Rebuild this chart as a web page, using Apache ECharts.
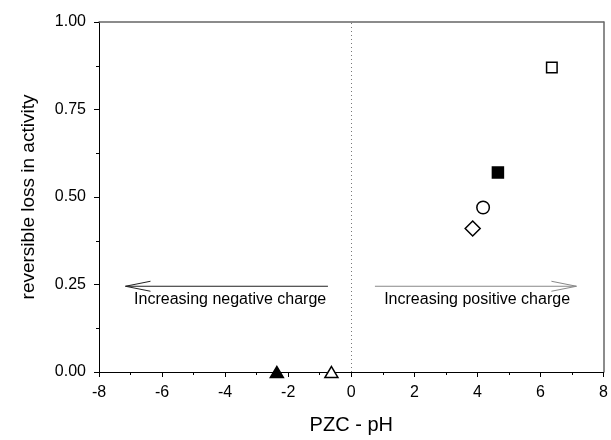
<!DOCTYPE html>
<html><head><meta charset="utf-8">
<script src="https://cdn.jsdelivr.net/npm/echarts@6/dist/echarts.min.js"></script>
<style>html,body{margin:0;padding:0;background:#fff}#c{width:611px;height:440px}</style>
</head><body><div id="c"></div>
<script>
// ---- data ----
const pointNames = ['filled triangle', 'open triangle', 'open diamond', 'open circle', 'filled square', 'open square'];
const pzcMinusPh = [-2.36, -0.63, 3.85, 4.18, 4.65, 6.36];
const reversibleLoss = [0.00, 0.00, 0.41, 0.47, 0.57, 0.87];
const xTickValues = [-8, -6, -4, -2, 0, 2, 4, 6, 8];
const yTickValues = [0.00, 0.25, 0.50, 0.75, 1.00];
const arrowTexts = ['Increasing negative charge', 'Increasing positive charge'];
const arrowFromX = [-0.74, 0.75];
const arrowToX = [-7.16, 7.14];
const arrowY = [0.245, 0.245];
const arrowTextX = [-3.84, 3.99];
const arrowTextY = [0.207, 0.207];

// ---- styles ----
const FONT = 'Liberation Sans, Arial, sans-serif';
const pointStyles = [
  {symbol: 'triangle', size: [13, 11], fill: '#000'},
  {symbol: 'triangle', size: [13, 11], fill: '#fff'},
  {symbol: 'diamond', size: [15, 15], fill: '#fff'},
  {symbol: 'circle', size: 12.5, fill: '#fff'},
  {symbol: 'rect', size: 11, fill: '#000'},
  {symbol: 'rect', size: 10.5, fill: '#fff'}
];
const arrowColors = ['#222', '#888'];

const chart = echarts.init(document.getElementById('c'), null, {renderer: 'canvas'});
const scatterSeries = pointNames.map((n, i) => ({
  name: n,
  type: 'scatter',
  xAxisIndex: 0, yAxisIndex: 0,
  symbol: pointStyles[i].symbol,
  symbolSize: pointStyles[i].size,
  itemStyle: {color: pointStyles[i].fill, borderColor: '#000', borderWidth: 1.5, opacity: 1},
  z: 5,
  silent: true,
  data: [[pzcMinusPh[i], reversibleLoss[i]]]
}));

const arrowSeries = {
  type: 'custom',
  xAxisIndex: 0, yAxisIndex: 0,
  silent: true,
  clip: false,
  z: 3,
  data: arrowTexts.map((t, i) => [arrowFromX[i], arrowToX[i], arrowY[i], arrowTextX[i], arrowTextY[i]]),
  renderItem: function (params, api) {
    const i = params.dataIndex;
    const p1 = api.coord([api.value(0), api.value(2)]);
    const p2 = api.coord([api.value(1), api.value(2)]);
    const pt = api.coord([api.value(3), api.value(4)]);
    const dir = p2[0] > p1[0] ? 1 : -1;
    const L = 25, H = 5;
    const col = arrowColors[i];
    return {
      type: 'group',
      children: [
        {type: 'line', shape: {x1: p1[0], y1: p1[1], x2: p2[0], y2: p2[1]}, style: {stroke: col, lineWidth: 1}},
        {type: 'polyline', shape: {points: [[p2[0] - dir * L, p2[1] - H], [p2[0], p2[1]], [p2[0] - dir * L, p2[1] + H]]}, style: {stroke: col, lineWidth: 1, fill: null}},
        {type: 'text', x: pt[0], y: pt[1], style: {text: arrowTexts[i], fill: '#000', font: '16px ' + FONT, textAlign: 'center', textVerticalAlign: 'middle'}}
      ]
    };
  }
};

const zeroLine = {
  type: 'line',
  xAxisIndex: 0, yAxisIndex: 0,
  data: [],
  silent: true,
  markLine: {
    silent: true,
    symbol: 'none',
    label: {show: false},
    lineStyle: {color: '#777', type: [1, 3], width: 1},
    data: [{xAxis: xTickValues[4]}]
  }
};

const option = {
  backgroundColor: '#fff',
  animation: false,
  grid: {left: 99, right: 7, top: 22, bottom: 64, containLabel: false},
  xAxis: [{
    type: 'value', position: 'bottom',
    min: xTickValues[0], max: xTickValues[xTickValues.length - 1], interval: 2,
    name: 'PZC - pH', nameLocation: 'middle', nameGap: 43,
    nameTextStyle: {fontFamily: FONT, fontSize: 20, color: '#000'},
    axisLine: {show: true, onZero: false, lineStyle: {color: '#000', width: 1}},
    axisTick: {show: true, inside: false, length: 5, lineStyle: {color: '#000'}},
    minorTick: {show: true, splitNumber: 2, length: 3, lineStyle: {color: '#000'}},
    axisLabel: {fontFamily: FONT, fontSize: 16, color: '#000', margin: 13},
    splitLine: {show: false}
  }, {
    type: 'value', position: 'top',
    min: xTickValues[0], max: xTickValues[xTickValues.length - 1],
    axisLine: {show: true, onZero: false, lineStyle: {color: '#666', width: 1.5}},
    axisTick: {show: false}, axisLabel: {show: false}, splitLine: {show: false}
  }],
  yAxis: [{
    type: 'value', position: 'left',
    min: yTickValues[0], max: yTickValues[yTickValues.length - 1], interval: 0.25,
    name: 'reversible loss in activity', nameLocation: 'middle', nameGap: 61, nameRotate: 90,
    nameTextStyle: {fontFamily: FONT, fontSize: 19, color: '#000'},
    axisLine: {show: true, onZero: false, lineStyle: {color: '#000', width: 1}},
    axisTick: {show: true, inside: false, length: 5, lineStyle: {color: '#000'}},
    minorTick: {show: true, splitNumber: 2, length: 3, lineStyle: {color: '#000'}},
    axisLabel: {fontFamily: FONT, fontSize: 16, color: '#000', margin: 13, formatter: v => v.toFixed(2)},
    splitLine: {show: false}
  }, {
    type: 'value', position: 'right',
    min: yTickValues[0], max: yTickValues[yTickValues.length - 1],
    axisLine: {show: true, onZero: false, lineStyle: {color: '#666', width: 1.5}},
    axisTick: {show: false}, axisLabel: {show: false}, splitLine: {show: false}
  }],
  series: [zeroLine, arrowSeries].concat(scatterSeries)
};
chart.setOption(option);
</script>
</body></html>
